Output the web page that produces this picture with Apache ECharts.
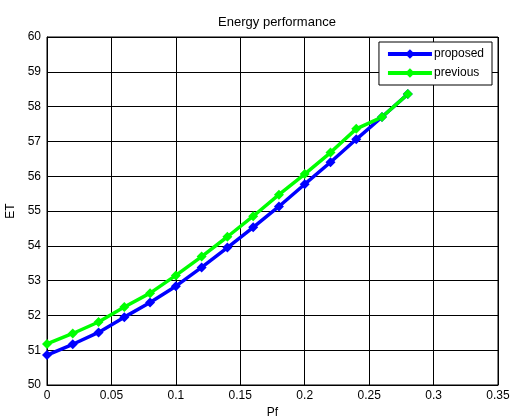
<!DOCTYPE html>
<html><head><meta charset="utf-8">
<script src="https://cdn.jsdelivr.net/npm/echarts@6/dist/echarts.min.js"></script>
<style>html,body{margin:0;padding:0;background:#fff}#c{width:513px;height:419px}</style>
</head><body><div id="c"></div>
<script>
const xValues = [0, 0.02, 0.04, 0.06, 0.08, 0.10, 0.12, 0.14, 0.16, 0.18, 0.20, 0.22, 0.24, 0.26, 0.28];
const proposed = [50.86, 51.17, 51.51, 51.95, 52.37, 52.84, 53.38, 53.95, 54.53, 55.13, 55.77, 56.40, 57.06, 57.70, 58.36];
const previous = [51.18, 51.48, 51.81, 52.24, 52.64, 53.15, 53.69, 54.26, 54.85, 55.47, 56.06, 56.68, 57.36, 57.70, 58.36];
const seriesNames = ['proposed', 'previous'];
const font = 'Liberation Sans, Arial, sans-serif';
const chart = echarts.init(document.getElementById('c'), null, {renderer: 'canvas'});
const pairs = arr => xValues.map((x, i) => [x, arr[i]]);
chart.setOption({
  animation: false,
  backgroundColor: '#fff',
  title: {text: 'Energy performance', left: 272, textAlign: 'center', top: 11,
    textStyle: {fontFamily: font, fontSize: 13, fontWeight: 'normal', color: '#000'}},
  grid: {left: 47, right: 15, top: 37, bottom: 34, outerBoundsMode: 'none', containLabel: false,
    show: true, borderColor: '#000', borderWidth: 1, backgroundColor: '#fff'},
  legend: {
    orient: 'vertical', right: 21, top: 42, itemWidth: 44, itemHeight: 12, itemGap: 7,
    padding: [6, 8, 6, 7], borderColor: '#000', borderWidth: 1, backgroundColor: '#fff',
    lineStyle: {width: 4},
    textStyle: {fontFamily: font, fontSize: 12, color: '#000', padding: [0, 0, 0, -3]},
    data: seriesNames
  },
  xAxis: {
    type: 'value', min: 0, max: 0.35, interval: 0.05, name: 'Pf', nameLocation: 'middle', nameGap: 20,
    nameTextStyle: {fontFamily: font, fontSize: 12, color: '#000'},
    axisLine: {lineStyle: {color: '#000', width: 1}},
    axisTick: {inside: true, length: 4, lineStyle: {color: '#000'}},
    axisLabel: {fontFamily: font, fontSize: 12, color: '#000', margin: 5, formatter: v => String(+v.toFixed(2))},
    splitLine: {show: true, lineStyle: {color: '#000', width: 1}}
  },
  yAxis: {
    type: 'value', min: 50, max: 60, interval: 1, name: 'ET', nameLocation: 'middle', nameGap: 25,
    nameTextStyle: {fontFamily: font, fontSize: 12, color: '#000'},
    axisLine: {lineStyle: {color: '#000', width: 1}},
    axisTick: {inside: true, length: 4, lineStyle: {color: '#000'}},
    axisLabel: {fontFamily: font, fontSize: 12, color: '#000', margin: 6},
    splitLine: {show: true, lineStyle: {color: '#000', width: 1}}
  },
  series: [
    {name: seriesNames[0], type: 'line', data: pairs(proposed), symbol: 'diamond', symbolSize: 10,
      lineStyle: {color: '#0000ff', width: 3.5}, itemStyle: {color: '#0000ff'}},
    {name: seriesNames[1], type: 'line', data: pairs(previous), symbol: 'diamond', symbolSize: 10,
      lineStyle: {color: '#00ff00', width: 3.5}, itemStyle: {color: '#00ff00'}}
  ]
});
</script></body></html>
